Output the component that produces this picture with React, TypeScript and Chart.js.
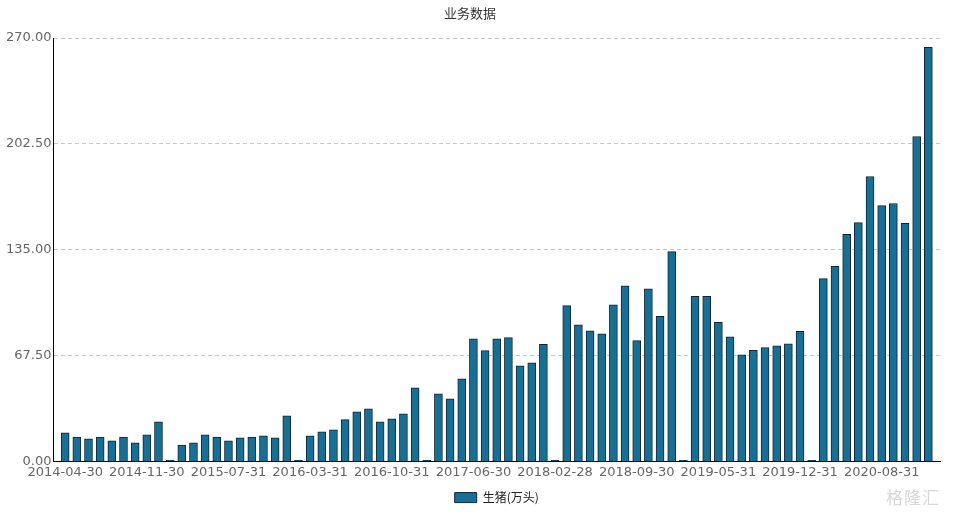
import React, { useEffect, useRef } from "react";
import { Chart, registerables } from "chart.js";

Chart.register(...registerables);

const categories: string[] = [
  "2014-04-30", "2014-05-31", "2014-06-30", "2014-07-31", "2014-08-31", "2014-09-30", "2014-10-31", "2014-11-30", "2014-12-31",
  "2015-02-28", "2015-03-31", "2015-04-30", "2015-05-31", "2015-06-30", "2015-07-31", "2015-08-31", "2015-09-30", "2015-10-31", "2015-11-30", "2015-12-31",
  "2016-02-29", "2016-03-31", "2016-04-30", "2016-05-31", "2016-06-30", "2016-07-31", "2016-08-31", "2016-09-30", "2016-10-31", "2016-11-30", "2016-12-31",
  "2017-02-28", "2017-03-31", "2017-04-30", "2017-05-31", "2017-06-30", "2017-07-31", "2017-08-31", "2017-09-30", "2017-10-31", "2017-11-30", "2017-12-31",
  "2018-02-28", "2018-03-31", "2018-04-30", "2018-05-31", "2018-06-30", "2018-07-31", "2018-08-31", "2018-09-30", "2018-10-31", "2018-11-30", "2018-12-31",
  "2019-02-28", "2019-03-31", "2019-04-30", "2019-05-31", "2019-06-30", "2019-07-31", "2019-08-31", "2019-09-30", "2019-10-31", "2019-11-30", "2019-12-31",
  "2020-02-29", "2020-03-31", "2020-04-30", "2020-05-31", "2020-06-30", "2020-07-31", "2020-08-31", "2020-09-30", "2020-10-31", "2020-11-30", "2020-12-31",
];

const pigs: number[] = [
  18.3, 15.7, 14.5, 15.7, 13.2, 15.7, 11.9, 17.0, 25.3,
  0.8, 10.6, 11.9, 17.0, 15.7, 13.2, 15.1, 15.7, 16.4, 15.1, 29.2,
  0.8, 16.5, 19.0, 20.2, 26.8, 31.7, 33.6, 25.3, 27.2, 30.4, 47.0,
  0.8, 43.2, 40.0, 52.8, 78.3, 70.7, 78.3, 79.0, 61.1, 63.0, 74.7,
  0.8, 99.4, 87.2, 83.4, 81.5, 100.0, 112.1, 77.1, 110.2, 92.6, 133.8,
  0.8, 105.3, 105.3, 88.7, 79.6, 68.1, 70.9, 72.6, 73.8, 75.1, 83.0,
  0.8, 116.6, 124.5, 144.9, 152.3, 181.7, 163.2, 164.5, 151.9, 207.2, 264.0,
];

const seriesName = "生猪(万头)";
const title = "业务数据";
const yTicks: number[] = [0, 67.5, 135, 202.5, 270];
const labelEvery = 7;

export default function App() {
  const ref = useRef<HTMLCanvasElement>(null);

  useEffect(() => {
    if (!ref.current) return;
    const tickIdx = categories.map((_, i) => i).filter((i) => i % labelEvery === 0);
    const chart = new Chart(ref.current, {
      type: "bar",
      data: {
        datasets: [
          {
            label: seriesName,
            data: pigs.map((v, i) => ({ x: i, y: v })),
            backgroundColor: "#176f96",
            borderColor: "#0d2633",
            borderWidth: 1,
            barThickness: 8,
          },
        ],
      },
      options: {
        animation: false,
        responsive: false,
        maintainAspectRatio: false,
        layout: { padding: { left: 0, right: 20, top: 0, bottom: -1.6 } },
        plugins: {
          title: {
            display: true,
            text: title,
            color: "#333",
            font: { family: "'Noto Sans CJK SC', 'DejaVu Sans'", size: 13, weight: "normal" },
            padding: { top: 5.5, bottom: 16.9 },
          },
          legend: {
            display: true,
            position: "bottom",
            fullSize: false,
            labels: {
              boxWidth: 22,
              boxHeight: 10,
              color: "#222",
              font: { family: "'Noto Sans CJK SC', 'DejaVu Sans'", size: 12, lineHeight: 1 },
              padding: 10,
            },
          },
          tooltip: { enabled: false },
        },
        scales: {
          x: {
            type: "linear",
            offset: false,
            min: -1,
            max: categories.length,
            grid: { display: false, offset: false, drawTicks: false, tickLength: 0 },
            border: { display: true, color: "#000", width: 1 },
            afterBuildTicks: (scale: any) => {
              scale.ticks = tickIdx.map((v) => ({ value: v }));
            },
            afterFit: (scale: any) => {
              scale.height = 20;
            },
            ticks: {
              autoSkip: false,
              maxRotation: 0,
              minRotation: 0,
              padding: 3,
              color: "#666",
              font: { family: "'DejaVu Sans'", size: 13 },
              callback: (v: any) => categories[v as number] ?? "",
            },
          },
          y: {
            min: 0,
            max: 270,
            afterBuildTicks: (scale: any) => {
              scale.ticks = yTicks.map((v) => ({ value: v }));
            },
            afterFit: (scale: any) => {
              scale.width = 53.5;
            },
            grid: {
              color: "#c8c8c8",
              drawTicks: false,
              tickLength: 0,
            },
            border: { display: true, color: "#000", width: 1, dash: [4, 3] },
            ticks: {
              padding: 2,
              color: "#666",
              font: { family: "'DejaVu Sans'", size: 13 },
              callback: (v: any) => Number(v).toFixed(2),
            },
          },
        },
      },
    });
    return () => chart.destroy();
  }, []);

  return (
    <div style={{ position: "absolute", left: 0, top: 0, width: 960, height: 512, background: "#fff" }}>
      <canvas ref={ref} width={960} height={512} style={{ width: 960, height: 512, display: "block" }} />
      <div
        style={{
          position: "absolute",
          left: 886,
          top: 484,
          fontFamily: "'Noto Sans CJK SC', sans-serif",
          fontSize: 17,
          color: "#d8d8d8",
          letterSpacing: 1,
        }}
      >
        格隆汇
      </div>
    </div>
  );
}
